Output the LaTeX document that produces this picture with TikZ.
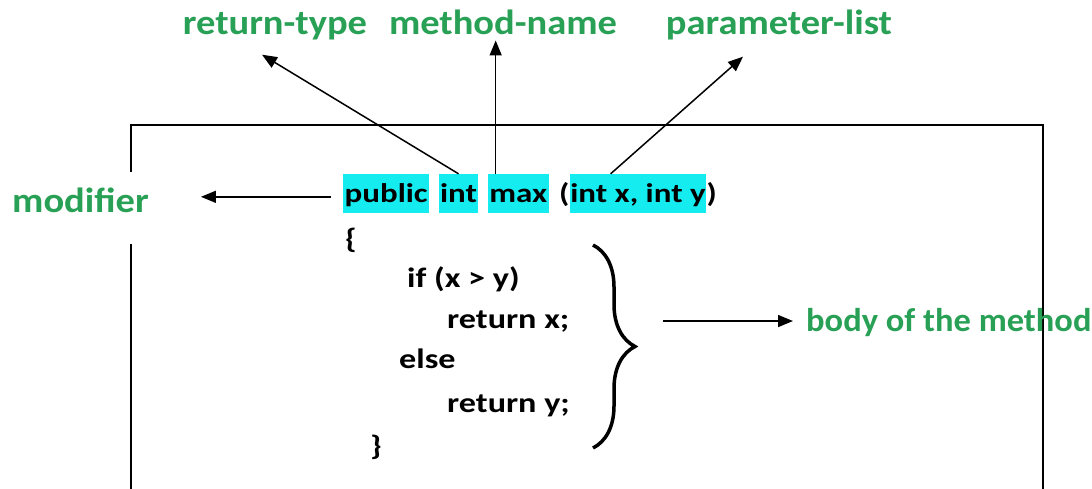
\documentclass[tikz,border=0pt]{standalone}
\usepackage{fontspec}
\setmainfont{Carlito}
\newfontfamily\codefont{Carlito}[FakeStretch=1.22]
\newfontfamily\lblfont{Carlito}[FakeStretch=1.1]
\newfontfamily\bodyfont{Carlito}[FakeStretch=1.045]
\usetikzlibrary{positioning,calc,arrows.meta,decorations.pathreplacing}
\definecolor{lblgreen}{RGB}{40,160,85}
\definecolor{hlcyan}{RGB}{20,236,240}

\begin{document}
\begin{tikzpicture}[x=1pt, y=-1pt, every node/.style={inner sep=0pt},
  lbl/.style={text=lblgreen, font=\lblfont\fontsize{35}{38}\selectfont\bfseries},
  code/.style={font=\codefont\fontsize{28}{32}\selectfont\bfseries},
  head/.style={font=\codefont\fontsize{27}{32}\selectfont\bfseries, text height=29pt, text depth=10pt},
  hl/.style={head, fill=hlcyan, inner xsep=1.5pt},
  arr/.style={line width=1.5pt, -{Triangle[length=15pt,width=12pt]}}]
\useasboundingbox (0,0) rectangle (1092,489);
% frame round the method, open at the left for the modifier arrow
\draw[line width=1.6pt] (131,172) -- (131,125) -- (1043,125) -- (1043,492);
\draw[line width=1.6pt] (131,244) -- (131,492);
% header line
\node[hl, anchor=base west] (pub) at (343,203) {public};
\node[hl, base right=9pt of pub] (int) {int};
\node[hl, base right=9pt of int] (max) {max};
\node[head, base right=10pt of max] (lpar) {(};
\node[hl, base right=0pt of lpar, inner xsep=0.5pt] (params) {int x, int y};
\node[head, base right=0pt of params] (rpar) {)};
% body lines
\foreach \n/\x/\y/\t in {lb/345/248/\{, ifl/407/287/{if (x > y)}, retx/447/328/{return x;},
    elsel/399/368/else, rety/447/412/{return y;}, rb/370/455/\}}
  \node[code, anchor=base west] (\n) at (\x,\y) {\t};
\draw[line width=3.5pt, decorate, decoration={brace, amplitude=42pt}] (593,245) -- (593,448);
% labels
\node[lbl, anchor=base] (rt) at (275,35) {return-type};
\node[lbl, anchor=base] (mn) at (503,35) {method-name};
\node[lbl, anchor=base] (pl) at (779,35) {parameter-list};
\node[lbl, anchor=base west] (mod) at (12,213) {modifier};
\node[lbl, anchor=base west, font=\bodyfont\fontsize{33}{36}\selectfont\bfseries] (body) at (806,331) {body of the method};
% arrows
\draw[arr] (int.north) -- ($(rt.south)+(-13,14)$);
\draw[arr, shorten >=5pt] ($(max.north west)+(8,0)$) coordinate (mt) -- (mt |- mn.south);
\draw[arr] ($(params.north west)!.3!(params.north east)$) -- ($(pl.south)+(-36,16)$);
\draw[arr] ($(mod.east -| pub.west)+(-12,-4)$) -- ($(mod.east)+(52,-4)$);
\draw[arr] ($(body.west)+(-143,-1)$) -- ($(body.west)+(-13,-1)$);
\end{tikzpicture}
\end{document}
